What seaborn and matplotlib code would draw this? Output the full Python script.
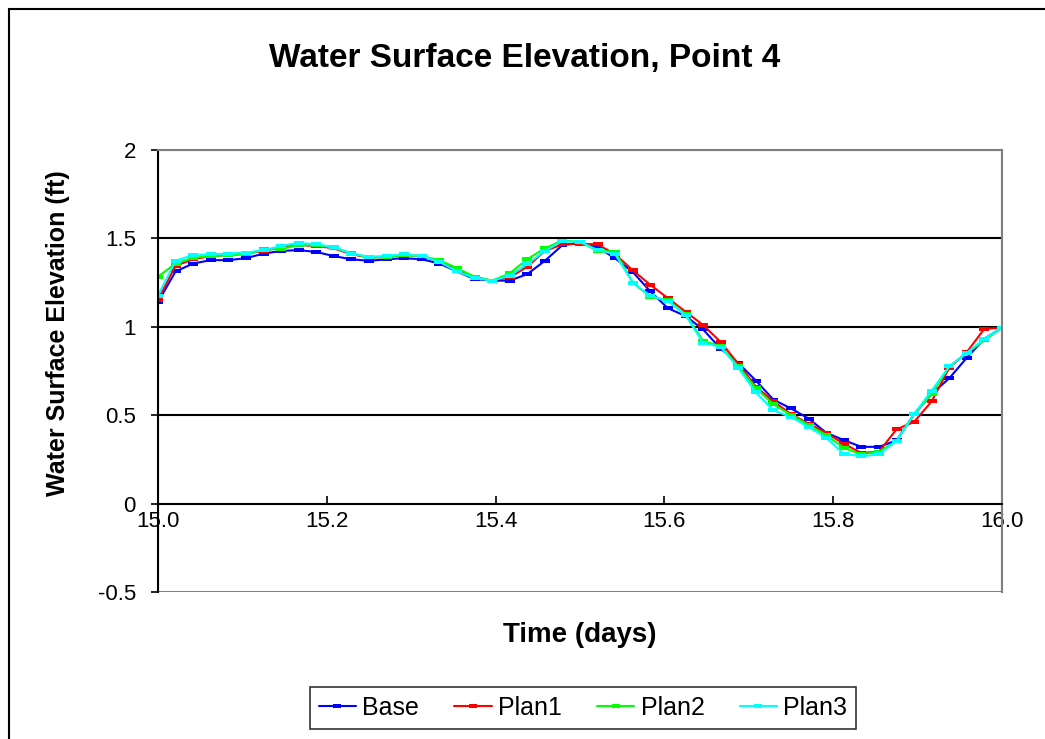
import numpy as np
import pandas as pd
import seaborn as sns
import matplotlib.pyplot as plt
from matplotlib.patches import Rectangle

# data, half-hourly from day 15.0 to 16.0
time_days = [15 + i / 48 for i in range(49)]

base = [1.14, 1.313, 1.358, 1.377, 1.377, 1.388, 1.414, 1.429, 1.434, 1.423,
        1.40, 1.382, 1.373, 1.382, 1.388, 1.382, 1.358, 1.313, 1.270, 1.261,
        1.261, 1.298, 1.373, 1.462, 1.475, 1.45, 1.387, 1.31, 1.20, 1.105,
        1.061, 0.985, 0.876, 0.795, 0.696, 0.588, 0.538, 0.481, 0.401, 0.359,
        0.321, 0.321, 0.357, 0.506, 0.620, 0.709, 0.825, 0.933, 0.994]
plan1 = [1.153, 1.345, 1.382, 1.40, 1.406, 1.414, 1.429, 1.451, 1.462, 1.457,
         1.444, 1.410, 1.392, 1.395, 1.406, 1.400, 1.368, 1.326, 1.280, 1.261,
         1.280, 1.339, 1.429, 1.466, 1.470, 1.466, 1.41, 1.32, 1.237, 1.162,
         1.086, 1.010, 0.914, 0.791, 0.662, 0.578, 0.506, 0.452, 0.401, 0.338,
         0.287, 0.293, 0.420, 0.462, 0.578, 0.768, 0.857, 0.989, 0.994]
plan2 = [1.283, 1.358, 1.39, 1.40, 1.405, 1.41, 1.438, 1.44, 1.462, 1.462,
         1.448, 1.416, 1.392, 1.395, 1.406, 1.400, 1.377, 1.332, 1.283, 1.261,
         1.302, 1.382, 1.444, 1.488, 1.48, 1.43, 1.425, 1.25, 1.17, 1.15,
         1.072, 0.92, 0.89, 0.776, 0.654, 0.561, 0.502, 0.445, 0.388, 0.316,
         0.278, 0.293, 0.354, 0.506, 0.620, 0.776, 0.852, 0.924, 0.994]
plan3 = [1.177, 1.373, 1.406, 1.41, 1.414, 1.42, 1.433, 1.457, 1.475, 1.466,
         1.451, 1.414, 1.396, 1.401, 1.410, 1.400, 1.368, 1.313, 1.276, 1.261,
         1.289, 1.354, 1.429, 1.485, 1.48, 1.435, 1.41, 1.25, 1.175, 1.145,
         1.067, 0.909, 0.886, 0.768, 0.629, 0.527, 0.490, 0.433, 0.373, 0.281,
         0.268, 0.278, 0.354, 0.506, 0.639, 0.776, 0.852, 0.933, 0.994]

series_names = ['Base', 'Plan1', 'Plan2', 'Plan3']
series_colors = ['#0000FF', '#FF0000', '#00FF00', '#00FFFF']

y_ticks = [-0.5, 0, 0.5, 1, 1.5, 2]
x_ticks = [15.0, 15.2, 15.4, 15.6, 15.8, 16.0]

df = pd.DataFrame({'time': time_days, 'Base': base, 'Plan1': plan1,
                   'Plan2': plan2, 'Plan3': plan3})

sns.set_theme(style='white')
plt.rcParams['font.family'] = ['Liberation Sans', 'DejaVu Sans']
plt.rcParams['text.color'] = 'black'
plt.rcParams['axes.labelcolor'] = 'black'
plt.rcParams['xtick.color'] = 'black'
plt.rcParams['ytick.color'] = 'black'

fig = plt.figure(figsize=(10.45, 7.39), dpi=100)
ax = fig.add_axes([158 / 1045, 1 - 592 / 739, 844 / 1045, 442 / 739])

# excel style flat dash marker
dash = [(-1, -0.4), (1, -0.4), (1, 0.4), (-1, 0.4), (-1, -0.4)]

for name, col in zip(series_names, series_colors):
    sns.lineplot(data=df, x='time', y=name, ax=ax, color=col, label=name,
                 marker=dash, markersize=7, markeredgewidth=0, linewidth=1.5)

# x axis sits on y = 0 (set before the ticks, it resets them)
ax.spines['bottom'].set_position(('data', 0))
ax.spines['bottom'].set_color('black')
ax.spines['bottom'].set_linewidth(1.5)
ax.spines['left'].set_color('black')
ax.spines['left'].set_linewidth(1.5)
for s in ['top', 'right']:
    ax.spines[s].set_color('#808080')
    ax.spines[s].set_linewidth(1.5)
# gray border at the bottom of the plot area
ax.add_patch(Rectangle((0, 0), 1, 1, transform=ax.transAxes, fill=False,
                       edgecolor='#808080', linewidth=1.5, zorder=0.4))

ax.set_xlim(15, 16)
ax.set_ylim(-0.5, 2)
ax.set_yticks(y_ticks)
ax.set_yticklabels(['{:g}'.format(v) for v in y_ticks])
ax.set_xticks(x_ticks)
ax.set_xticklabels(['{:.1f}'.format(v) for v in x_ticks])

for v in [0.5, 1, 1.5]:
    ax.axhline(v, color='black', linewidth=1.5, zorder=0.5)

ax.tick_params(axis='x', direction='in', length=6, width=1.2, color='black',
               pad=5, bottom=True, labelsize=16)
ax.tick_params(axis='y', direction='out', length=5, width=1.2, color='black',
               pad=11, left=True, labelsize=16)

ax.set_xlabel('Time (days)', fontsize=20, fontweight='bold')
ax.xaxis.set_label_coords(0.5, -0.068)
ax.set_ylabel('Water Surface Elevation (ft)', fontsize=18, fontweight='bold')
ax.yaxis.set_label_coords(-0.104, 0.586)

fig.suptitle('Water Surface Elevation, Point 4', x=525 / 1045, y=1 - 58 / 739,
             va='center', fontsize=24, fontweight='bold')

ax.get_legend().remove()
handles, labels = ax.get_legend_handles_labels()
leg = fig.legend(handles, labels, loc='center', ncol=4,
                 bbox_to_anchor=(583 / 1045, 1 - 708 / 739), fontsize=18,
                 frameon=True, fancybox=False, edgecolor='black',
                 handlelength=1.5, handletextpad=0.25, columnspacing=1.4,
                 borderpad=0.35, borderaxespad=0)
leg.get_frame().set_linewidth(1.2)
for h in leg.legend_handles:
    h.set_markersize(6)

# outer chart frame
fig.add_artist(Rectangle((9 / 1045, -0.1), 1.2, 1.1 - 9 / 739, transform=fig.transFigure,
                         fill=False, edgecolor='black', linewidth=1.5))

fig.savefig('out.png', dpi=100)
